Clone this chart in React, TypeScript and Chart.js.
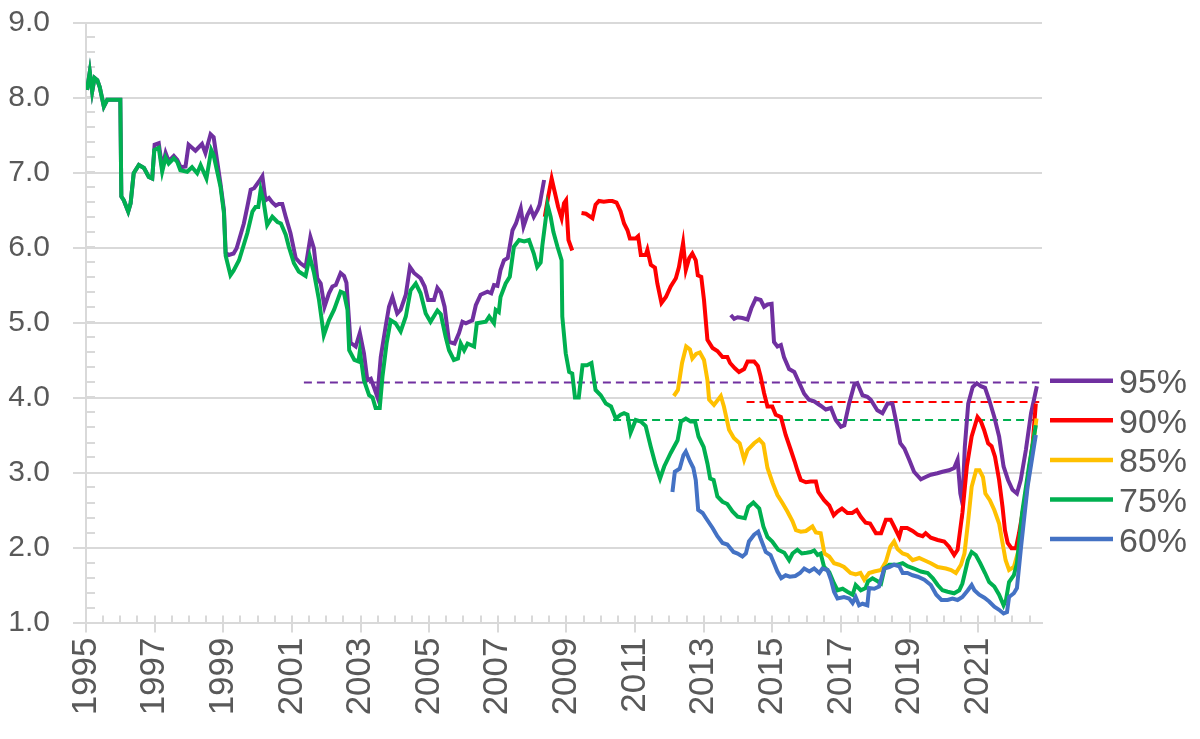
import React, { useEffect, useRef } from "react";
import { Chart, registerables } from "chart.js";

Chart.register(...registerables);

// ---------- axis / labels ----------
const xMin = 1995;
const xMax = 2022.86;
const yMin = 1;
const yMax = 9;
const xTickYears = [1995, 1997, 1999, 2001, 2003, 2005, 2007, 2009, 2011, 2013, 2015, 2017, 2019, 2021];
const yTickValues = [1, 2, 3, 4, 5, 6, 7, 8, 9];
const xMinorStep = 0.5;
const xMinorLast = 2022.5;
const yMinorStep = 0.2;

const seriesLabels = ["95%", "90%", "85%", "75%", "60%"];
const seriesColors = ["#7030A0", "#FF0000", "#FFC000", "#00B050", "#4472C4"];

// ---------- 75% ----------
const p75Dates = [
  1995.03, 1995.11, 1995.18, 1995.25, 1995.33, 1995.4, 1995.52, 1995.62, 1995.8, 1996.0,
  1996.03, 1996.1, 1996.23, 1996.3, 1996.39, 1996.54, 1996.69, 1996.83, 1996.93, 1996.99,
  1997.12, 1997.22, 1997.32, 1997.41, 1997.56, 1997.66, 1997.75, 1997.95, 1998.09, 1998.24,
  1998.34, 1998.51, 1998.65, 1998.72, 1998.92, 1999.02, 1999.07, 1999.21, 1999.3, 1999.46,
  1999.7, 1999.85, 1999.94, 2000.02, 2000.09, 2000.17, 2000.28, 2000.43, 2000.58, 2000.68,
  2000.82, 2000.91, 2001.06, 2001.2, 2001.4, 2001.52, 2001.64, 2001.79, 2001.93, 2002.08,
  2002.23, 2002.42, 2002.52, 2002.62, 2002.67, 2002.82, 2002.94, 2002.98, 2003.1, 2003.25,
  2003.35, 2003.44, 2003.56, 2003.64, 2003.76, 2003.88, 2004.02, 2004.17, 2004.32, 2004.46,
  2004.61, 2004.75, 2004.9, 2005.04, 2005.24, 2005.34, 2005.48, 2005.58, 2005.72, 2005.84,
  2005.92, 2006.02, 2006.12, 2006.31, 2006.39, 2006.65, 2006.75, 2006.89, 2006.94, 2007.03,
  2007.08, 2007.23, 2007.35, 2007.47, 2007.62, 2007.77, 2007.91, 2008.05, 2008.15, 2008.25,
  2008.3, 2008.45, 2008.54, 2008.62, 2008.74, 2008.86, 2008.88, 2008.98, 2009.08, 2009.17,
  2009.25, 2009.36, 2009.47, 2009.6, 2009.73, 2009.85, 2010.0, 2010.15, 2010.3, 2010.44,
  2010.58, 2010.68, 2010.78, 2010.87, 2011.02, 2011.17, 2011.31, 2011.46, 2011.6, 2011.73,
  2011.85, 2012.04, 2012.24, 2012.34, 2012.48, 2012.62, 2012.75, 2012.85, 2013.0, 2013.11,
  2013.19, 2013.29, 2013.4, 2013.55, 2013.69, 2013.84, 2013.99, 2014.2, 2014.3, 2014.45,
  2014.62, 2014.74, 2014.86, 2015.0, 2015.17, 2015.35, 2015.49, 2015.59, 2015.73, 2015.86,
  2016.0, 2016.12, 2016.22, 2016.32, 2016.41, 2016.51, 2016.66, 2016.8, 2016.9, 2017.05,
  2017.19, 2017.34, 2017.43, 2017.58, 2017.72, 2017.79, 2017.92, 2018.07, 2018.17, 2018.27,
  2018.41, 2018.65, 2018.8, 2018.94, 2019.13, 2019.33, 2019.53, 2019.68, 2019.82, 2019.96,
  2020.11, 2020.3, 2020.45, 2020.54, 2020.7, 2020.81, 2020.93, 2021.06, 2021.2, 2021.32,
  2021.47, 2021.61, 2021.74, 2021.81, 2021.9, 2022.04, 2022.13, 2022.28, 2022.48, 2022.68,
];
const p75Values = [
  8.1, 8.34, 8.08, 8.26, 8.23, 8.14, 7.88, 7.97, 7.97, 7.97,
  6.68, 6.63, 6.48, 6.59, 6.99, 7.1, 7.06, 6.94, 6.92, 7.3,
  7.33, 7.01, 7.2, 7.12, 7.19, 7.14, 7.03, 7.01, 7.07, 6.99,
  7.1, 6.92, 7.3, 7.23, 6.81, 6.46, 5.89, 5.63, 5.69, 5.83,
  6.19, 6.48, 6.54, 6.54, 6.77, 6.63, 6.3, 6.41, 6.34, 6.32,
  6.17, 6.01, 5.79, 5.68, 5.62, 5.88, 5.67, 5.3, 4.83, 5.03,
  5.17, 5.41, 5.39, 5.17, 4.63, 4.5, 4.48, 4.62, 4.23, 4.03,
  4.0, 3.86, 3.86, 4.28, 4.72, 5.03, 4.99, 4.88, 5.08, 5.43,
  5.52, 5.39, 5.12, 5.01, 5.16, 5.11, 4.81, 4.63, 4.5, 4.52,
  4.72, 4.63, 4.72, 4.68, 4.99, 5.01, 5.08, 4.99, 5.17, 5.14,
  5.34, 5.52, 5.61, 6.01, 6.1, 6.08, 6.1, 5.92, 5.74, 5.8,
  6.03, 6.57, 6.41, 6.21, 6.01, 5.83, 5.08, 4.59, 4.34, 4.32,
  4.0, 4.0, 4.43, 4.43, 4.46, 4.1, 4.03, 3.92, 3.88, 3.72,
  3.77, 3.79, 3.77, 3.53, 3.7, 3.68, 3.62, 3.34, 3.1, 2.92,
  3.08, 3.26, 3.43, 3.68, 3.72, 3.68, 3.68, 3.48, 3.34, 3.12,
  2.92, 2.9, 2.68, 2.61, 2.58, 2.48, 2.41, 2.39, 2.54, 2.6,
  2.52, 2.28, 2.14, 2.08, 1.97, 1.93, 1.83, 1.92, 1.97, 1.92,
  1.93, 1.94, 1.96, 1.9, 1.92, 1.74, 1.67, 1.52, 1.43, 1.45,
  1.41, 1.37, 1.5, 1.43, 1.46, 1.55, 1.59, 1.55, 1.52, 1.72,
  1.77, 1.77, 1.79, 1.75, 1.72, 1.68, 1.66, 1.59, 1.5, 1.43,
  1.41, 1.39, 1.43, 1.52, 1.83, 1.94, 1.9, 1.79, 1.66, 1.54,
  1.48, 1.37, 1.23, 1.3, 1.54, 1.63, 1.79, 2.46, 3.08, 3.63,
];

// ---------- 95% (null = gap) ----------
const p95Dates = [
  1995.03, 1995.11, 1995.18, 1995.25, 1995.33, 1995.4, 1995.52, 1995.62, 1995.8, 1996.0,
  1996.03, 1996.1, 1996.23, 1996.3, 1996.39, 1996.54, 1996.69, 1996.83, 1996.93, 1997.0,
  1997.12, 1997.22, 1997.32, 1997.41, 1997.56, 1997.66, 1997.76, 1997.9, 1997.99, 1998.09,
  1998.19, 1998.38, 1998.48, 1998.63, 1998.72, 1998.92, 1999.02, 1999.07, 1999.16, 1999.3,
  1999.39, 1999.6, 1999.7, 1999.8, 1999.9, 2000.04, 2000.14, 2000.23, 2000.33, 2000.43,
  2000.53, 2000.62, 2000.72, 2000.82, 2000.96, 2001.11, 2001.25, 2001.4, 2001.54, 2001.64,
  2001.74, 2001.84, 2001.95, 2002.08, 2002.18, 2002.28, 2002.42, 2002.52, 2002.59, 2002.71,
  2002.86, 2002.98, 2003.1, 2003.2, 2003.3, 2003.39, 2003.49, 2003.59, 2003.73, 2003.83,
  2003.93, 2004.07, 2004.17, 2004.32, 2004.44, 2004.56, 2004.75, 2004.87, 2004.97, 2005.14,
  2005.24, 2005.34, 2005.45, 2005.58, 2005.74, 2005.87, 2005.97, 2006.07, 2006.26, 2006.36,
  2006.5, 2006.7, 2006.81, 2006.89, 2006.99, 2007.08, 2007.18, 2007.29, 2007.43, 2007.53,
  2007.67, 2007.75, 2007.86, 2007.96, 2008.05, 2008.16, 2008.22, 2008.35, 2011.0, 2013.79,
  2013.89, 2013.99, 2014.13, 2014.28, 2014.39, 2014.52, 2014.66, 2014.76, 2014.86, 2014.98,
  2015.05, 2015.15, 2015.25, 2015.34, 2015.49, 2015.64, 2015.78, 2015.93, 2016.07, 2016.22,
  2016.41, 2016.56, 2016.71, 2016.85, 2017.0, 2017.1, 2017.24, 2017.39, 2017.48, 2017.63,
  2017.77, 2017.87, 2018.06, 2018.21, 2018.36, 2018.5, 2018.6, 2018.73, 2018.85, 2018.99,
  2019.13, 2019.33, 2019.47, 2019.62, 2019.81, 2019.96, 2020.15, 2020.3, 2020.4, 2020.48,
  2020.54, 2020.61, 2020.71, 2020.84, 2020.96, 2021.08, 2021.2, 2021.32, 2021.47, 2021.61,
  2021.74, 2021.87, 2022.0, 2022.13, 2022.24, 2022.39, 2022.54, 2022.71,
];
const p95Values = [
  8.1, 8.34, 8.08, 8.26, 8.23, 8.14, 7.88, 7.97, 7.97, 7.97,
  6.68, 6.63, 6.48, 6.59, 6.99, 7.1, 7.06, 6.94, 6.92, 7.37,
  7.39, 7.06, 7.26, 7.15, 7.22, 7.17, 7.07, 7.08, 7.37, 7.33,
  7.29, 7.38, 7.26, 7.51, 7.47, 6.85, 6.5, 5.93, 5.9, 5.92,
  5.99, 6.32, 6.54, 6.77, 6.79, 6.88, 6.95, 6.63, 6.66, 6.6,
  6.56, 6.58, 6.58, 6.41, 6.19, 5.86, 5.79, 5.74, 6.14, 5.99,
  5.59, 5.52, 5.21, 5.39, 5.48, 5.5, 5.66, 5.62, 5.53, 4.73,
  4.68, 4.86, 4.59, 4.23, 4.25, 4.14, 4.01, 4.54, 4.94, 5.21,
  5.34, 5.12, 5.17, 5.37, 5.74, 5.66, 5.59, 5.48, 5.3, 5.3,
  5.46, 5.4, 5.21, 4.74, 4.72, 4.86, 5.01, 4.99, 5.03, 5.23,
  5.37, 5.41, 5.39, 5.5, 5.49, 5.7, 5.83, 5.86, 6.23, 6.32,
  6.52, 6.28, 6.43, 6.52, 6.41, 6.5, 6.57, 6.9, null, 5.1,
  5.05, 5.07, 5.06, 5.04, 5.19, 5.32, 5.3, 5.21, 5.24, 5.25,
  4.74, 4.68, 4.7, 4.54, 4.38, 4.34, 4.2, 4.05, 3.97, 3.95,
  3.89, 3.84, 3.86, 3.7, 3.61, 3.63, 3.92, 4.17, 4.19, 4.03,
  4.01, 3.97, 3.83, 3.79, 3.92, 3.92, 3.7, 3.39, 3.32, 3.17,
  3.01, 2.91, 2.94, 2.97, 2.99, 3.01, 3.03, 3.06, 3.17, 2.72,
  2.59, 3.34, 3.92, 4.14, 4.19, 4.15, 4.13, 3.97, 3.74, 3.48,
  3.08, 2.9, 2.77, 2.72, 2.9, 3.3, 3.79, 4.15,
];

// ---------- 90% (null = gap) ----------
const p90Dates = [
  2008.37, 2008.47, 2008.57, 2008.67, 2008.76, 2008.86, 2008.93, 2008.99, 2009.06, 2009.17,
  2009.3, 2009.44, 2009.57, 2009.76, 2009.85, 2009.95, 2010.09, 2010.24, 2010.34, 2010.46,
  2010.58, 2010.68, 2010.78, 2010.85, 2011.02, 2011.09, 2011.17, 2011.31, 2011.36, 2011.46,
  2011.58, 2011.65, 2011.77, 2011.9, 2012.04, 2012.19, 2012.28, 2012.4, 2012.48, 2012.58,
  2012.67, 2012.77, 2012.83, 2012.93, 2013.01, 2013.11, 2013.26, 2013.4, 2013.55, 2013.69,
  2013.77, 2013.91, 2014.03, 2014.18, 2014.28, 2014.47, 2014.58, 2014.66, 2014.76, 2014.86,
  2015.0, 2015.1, 2015.25, 2015.39, 2015.54, 2015.65, 2015.73, 2015.83, 2015.98, 2016.12,
  2016.27, 2016.34, 2016.51, 2016.66, 2016.79, 2016.9, 2017.03, 2017.19, 2017.33, 2017.46,
  2017.58, 2017.72, 2017.85, 2018.02, 2018.17, 2018.31, 2018.45, 2018.55, 2018.7, 2018.77,
  2018.93, 2019.09, 2019.24, 2019.38, 2019.47, 2019.62, 2019.82, 2020.01, 2020.15, 2020.3,
  2020.4, 2020.54, 2020.67, 2020.81, 2020.98, 2021.08, 2021.17, 2021.29, 2021.39, 2021.49,
  2021.61, 2021.71, 2021.78, 2021.86, 2021.97, 2022.1, 2022.19, 2022.39, 2022.59, 2022.68,
];
const p90Values = [
  6.41, 6.68, 6.92, 6.72, 6.54, 6.39, 6.59, 6.63, 6.1, 5.96,
  null, 6.46, 6.45, 6.39, 6.57, 6.62, 6.61, 6.62, 6.62, 6.6,
  6.48, 6.32, 6.23, 6.12, 6.12, 6.15, 5.9, 5.9, 5.97, 5.77,
  5.73, 5.52, 5.26, 5.34, 5.48, 5.59, 5.74, 6.06, 5.7, 5.86,
  5.92, 5.83, 5.63, 5.61, 5.3, 4.77, 4.66, 4.62, 4.54, 4.54,
  4.46, 4.39, 4.34, 4.38, 4.48, 4.48, 4.42, 4.28, 4.06, 3.88,
  3.88, 3.77, 3.74, 3.5, 3.3, 3.15, 3.03, 2.9, 2.87, 2.88,
  2.88, 2.74, 2.63, 2.56, 2.43, 2.48, 2.52, 2.46, 2.46, 2.5,
  2.41, 2.33, 2.32, 2.19, 2.19, 2.37, 2.37, 2.28, 2.14, 2.26,
  2.26, 2.22, 2.17, 2.15, 2.19, 2.13, 2.1, 2.08, 2.01, 1.9,
  1.97, 2.46, 3.08, 3.48, 3.74, 3.68, 3.57, 3.39, 3.35, 3.21,
  2.9, 2.54, 2.23, 2.06, 1.99, 1.99, 2.19, 2.72, 3.39, 3.92,
];

// ---------- 85% ----------
const p85Dates = [
  2012.13, 2012.25, 2012.37, 2012.49, 2012.6, 2012.67, 2012.78, 2012.89, 2013.01, 2013.11,
  2013.16, 2013.3, 2013.5, 2013.59, 2013.74, 2013.88, 2014.05, 2014.18, 2014.28, 2014.47,
  2014.62, 2014.74, 2014.86, 2015.01, 2015.15, 2015.3, 2015.44, 2015.59, 2015.69, 2015.83,
  2015.98, 2016.17, 2016.27, 2016.41, 2016.52, 2016.66, 2016.8, 2016.95, 2017.09, 2017.28,
  2017.43, 2017.57, 2017.68, 2017.82, 2017.97, 2018.17, 2018.31, 2018.44, 2018.55, 2018.65,
  2018.8, 2018.94, 2019.09, 2019.28, 2019.43, 2019.62, 2019.82, 2020.06, 2020.21, 2020.35,
  2020.5, 2020.6, 2020.7, 2020.81, 2020.94, 2021.04, 2021.14, 2021.21, 2021.34, 2021.47,
  2021.61, 2021.71, 2021.8, 2021.9, 2022.04, 2022.2, 2022.4, 2022.55, 2022.7,
];
const p85Values = [
  4.02, 4.1, 4.46, 4.68, 4.64, 4.52, 4.58, 4.6, 4.5, 4.23,
  3.97, 3.9, 4.02, 3.88, 3.57, 3.46, 3.39, 3.17, 3.3, 3.39,
  3.44, 3.38, 3.06, 2.86, 2.7, 2.59, 2.48, 2.35, 2.23, 2.21,
  2.22, 2.28, 2.2, 2.19, 1.92, 1.88, 1.79, 1.77, 1.74, 1.66,
  1.64, 1.66, 1.57, 1.66, 1.68, 1.7, 1.81, 2.01, 2.08, 1.98,
  1.92, 1.9, 1.83, 1.86, 1.83, 1.79, 1.74, 1.72, 1.7, 1.66,
  1.77, 1.92, 2.32, 2.81, 3.03, 3.03, 2.94, 2.72, 2.63, 2.5,
  2.32, 2.06, 1.83, 1.7, 1.74, 2.0, 2.7, 3.2, 3.72,
];

// ---------- 60% ----------
const p60Dates = [
  2012.09, 2012.16, 2012.3, 2012.41, 2012.48, 2012.6, 2012.7, 2012.77, 2012.84, 2012.97,
  2013.07, 2013.26, 2013.4, 2013.55, 2013.69, 2013.87, 2013.99, 2014.13, 2014.23, 2014.32,
  2014.47, 2014.59, 2014.66, 2014.81, 2014.95, 2015.05, 2015.15, 2015.26, 2015.39, 2015.51,
  2015.67, 2015.81, 2015.93, 2016.08, 2016.22, 2016.37, 2016.46, 2016.61, 2016.71, 2016.8,
  2016.9, 2017.09, 2017.24, 2017.34, 2017.43, 2017.53, 2017.63, 2017.77, 2017.82, 2017.97,
  2018.11, 2018.26, 2018.41, 2018.55, 2018.7, 2018.8, 2018.94, 2019.09, 2019.24, 2019.43,
  2019.62, 2019.78, 2019.93, 2020.11, 2020.25, 2020.4, 2020.54, 2020.7, 2020.81, 2020.89,
  2021.03, 2021.18, 2021.32, 2021.47, 2021.61, 2021.74, 2021.84, 2021.9, 2022.04, 2022.13,
  2022.25, 2022.44, 2022.68,
];
const p60Values = [
  2.74, 3.01, 3.05, 3.23, 3.28, 3.15, 3.06, 2.9, 2.5, 2.46,
  2.39, 2.26, 2.15, 2.06, 2.04, 1.94, 1.92, 1.88, 1.92, 2.08,
  2.17, 2.21, 2.12, 1.94, 1.9, 1.79, 1.68, 1.59, 1.63, 1.61,
  1.62, 1.66, 1.72, 1.68, 1.72, 1.66, 1.72, 1.7, 1.57, 1.41,
  1.32, 1.34, 1.32, 1.26, 1.34, 1.23, 1.25, 1.23, 1.46, 1.45,
  1.48, 1.72, 1.74, 1.77, 1.75, 1.66, 1.66, 1.63, 1.61, 1.57,
  1.5, 1.37, 1.3, 1.3, 1.32, 1.3, 1.34, 1.43, 1.5, 1.43,
  1.37, 1.33, 1.28, 1.21, 1.17, 1.12, 1.14, 1.34, 1.39, 1.46,
  2.01, 2.81, 3.5,
];

// ---------- reference (dashed) levels ----------
const ref95Dates = [2001.35, 2022.78];
const ref95Values = [4.2, 4.2];
const ref90Dates = [2014.25, 2022.78];
const ref90Values = [3.94, 3.94];
const ref75Dates = [2010.36, 2022.78];
const ref75Values = [3.7, 3.7];

const FONT = "'Liberation Sans', Arial, Helvetica, sans-serif";
const GRID = "#d9d9d9";
const TEXT = "#595959";

function pts(dates: number[], values: (number | null)[]) {
  return dates.map((d, i) => ({ x: d, y: values[i] }));
}

const minorTicksPlugin = {
  id: "minorTicks",
  beforeDatasetsDraw(chart: any) {
    const { ctx } = chart;
    const xs = chart.scales.x;
    const ys = chart.scales.y;
    const area = chart.chartArea;
    ctx.save();
    ctx.strokeStyle = GRID;
    ctx.lineWidth = 2;
    ctx.beginPath();
    for (let v = xMin; v <= xMinorLast + 1e-6; v += xMinorStep) {
      const px = Math.round(xs.getPixelForValue(v));
      ctx.moveTo(px, area.bottom);
      ctx.lineTo(px, area.bottom - 7);
    }
    for (let v = yMin; v <= yMax + 1e-6; v += yMinorStep) {
      const py = Math.round(ys.getPixelForValue(v));
      ctx.moveTo(area.left, py);
      ctx.lineTo(area.left + 9, py);
    }
    ctx.stroke();
    ctx.restore();
  },
};

const legendPlugin = {
  id: "sideLegend",
  afterDraw(chart: any) {
    const { ctx } = chart;
    ctx.save();
    seriesLabels.forEach((label, i) => {
      const y = 380.7 + i * 39.6;
      ctx.strokeStyle = seriesColors[i];
      ctx.lineWidth = 4.5;
      ctx.beginPath();
      ctx.moveTo(1050, y);
      ctx.lineTo(1113, y);
      ctx.stroke();
      ctx.fillStyle = TEXT;
      ctx.font = `34px ${FONT}`;
      ctx.textAlign = "left";
      ctx.textBaseline = "alphabetic";
      ctx.fillText(label, 1119, y + 12.5);
    });
    ctx.restore();
  },
};

export default function App() {
  const ref = useRef<HTMLCanvasElement>(null);

  useEffect(() => {
    if (!ref.current) return;
    const mk = (i: number, dates: number[], values: (number | null)[], order: number) => ({
      label: seriesLabels[i],
      data: pts(dates, values),
      borderColor: seriesColors[i],
      backgroundColor: seriesColors[i],
      borderWidth: 4,
      pointRadius: 0,
      tension: 0,
      fill: false,
      spanGaps: false,
      order,
    });
    const mkRef = (i: number, dates: number[], values: number[]) => ({
      label: "ref " + seriesLabels[i],
      data: pts(dates, values),
      borderColor: seriesColors[i],
      borderWidth: 2,
      borderDash: [8, 5],
      pointRadius: 0,
      fill: false,
      order: 10,
    });
    const chart = new Chart(ref.current, {
      type: "line",
      data: {
        datasets: [
          mkRef(0, ref95Dates, ref95Values),
          mkRef(1, ref90Dates, ref90Values),
          mkRef(3, ref75Dates, ref75Values),
          mk(0, p95Dates, p95Values, 5),
          mk(1, p90Dates, p90Values, 4),
          mk(2, p85Dates, p85Values, 3),
          mk(3, p75Dates, p75Values, 2),
          mk(4, p60Dates, p60Values, 1),
        ] as any,
      },
      options: {
        animation: false,
        responsive: false,
        devicePixelRatio: 1,
        layout: { padding: { top: 22.5, right: 158, left: 0, bottom: 0 } },
        plugins: { legend: { display: false }, tooltip: { enabled: false } },
        scales: {
          x: {
            type: "linear",
            min: xMin,
            max: xMax,
            afterBuildTicks: (s: any) => {
              s.ticks = xTickYears.map((v) => ({ value: v }));
            },
            afterFit: (s: any) => {
              s.height = 116.5;
              s.paddingLeft = 0;
              s.paddingRight = 0;
            },
            ticks: {
              autoSkip: false,
              minRotation: 90,
              maxRotation: 90,
              padding: 5,
              color: TEXT,
              font: { family: FONT, size: 35 },
              callback: (v: any) => String(v),
            },
            grid: { drawOnChartArea: false, drawTicks: true, tickLength: 10, color: GRID, lineWidth: 2 },
            border: { display: true, color: GRID, width: 2 },
          },
          y: {
            type: "linear",
            min: yMin,
            max: yMax,
            afterBuildTicks: (s: any) => {
              s.ticks = yTickValues.map((v) => ({ value: v }));
            },
            afterFit: (s: any) => {
              s.width = 86;
              s.paddingTop = 0;
              s.paddingBottom = 0;
            },
            ticks: {
              padding: 23,
              color: TEXT,
              font: { family: FONT, size: 30 },
              callback: (v: any) => Number(v).toFixed(1),
            },
            grid: { color: GRID, lineWidth: 2, tickLength: 13, drawTicks: true },
            border: { display: true, color: GRID, width: 2 },
          },
        },
      } as any,
      plugins: [minorTicksPlugin, legendPlugin],
    });
    return () => chart.destroy();
  }, []);

  return (
    <div style={{ position: "absolute", left: 0, top: 0, width: 1200, height: 739, background: "#fff" }}>
      <canvas ref={ref} width={1200} height={739} style={{ width: 1200, height: 739, display: "block" }} />
    </div>
  );
}
